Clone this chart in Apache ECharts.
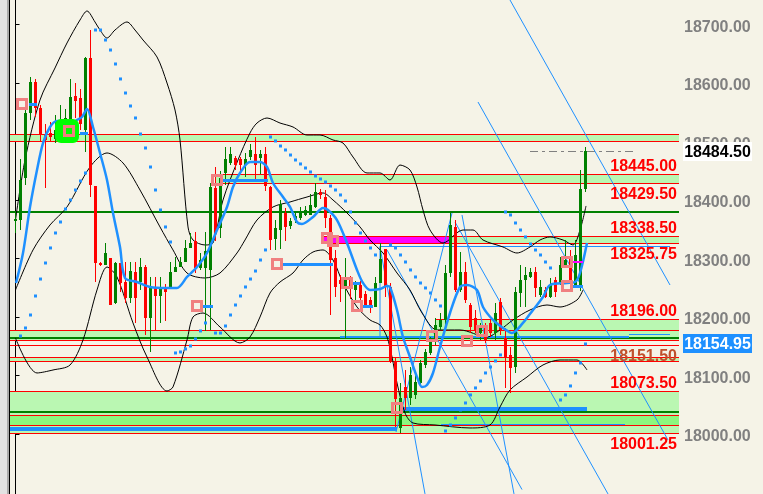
<!DOCTYPE html>
<html><head><meta charset="utf-8">
<script src="https://cdn.jsdelivr.net/npm/echarts@6/dist/echarts.min.js"></script>
<style>html,body{margin:0;padding:0;background:#F5F3E7;}#c{width:763px;height:494px;}</style>
</head><body><div id="c"></div>
<script>
// ---------- data ----------
const opens = [18364,18366,18437,18549,18602,18558,18511,18515,18505,18510,
18520,18536,18577,18575,18520,18643,18424,18292,18289,18301,
18224,18292,18260,18232,18277,18260,18285,18198,18250,18236,
18250,18250,18277,18285,18294,18318,18330,18284,18283,18280,
18420,18352,18446,18464,18471,18470,18460,18473,18478,18472,
18478,18422,18333,18348,18377,18355,18365,18370,18375,18374,
18388,18414,18405,18369,18300,18263,18251,18266,18246,18255,
18240,18229,18217,18258,18316,18251,18123,18010,18081,18062,
18067,18087,18118,18139,18161,18183,18195,18275,18354,18246,
18277,18220,18198,18173,18183,18190,18173,18226,18164,18135,
18115,18241,18263,18268,18277,18238,18246,18234,18263,18258,
18286,18301,18251,18250,18419];
const closes = [18367,18434,18549,18602,18558,18511,18503,18508,18520,18530,
18540,18576,18570,18530,18643,18425,18292,18289,18309,18220,
18292,18258,18232,18279,18232,18285,18198,18249,18236,18248,
18243,18277,18285,18294,18318,18326,18284,18297,18312,18422,
18342,18438,18470,18478,18459,18459,18470,18485,18460,18478,
18424,18332,18352,18393,18353,18364,18372,18377,18383,18391,
18414,18409,18369,18297,18251,18257,18263,18250,18260,18233,
18220,18217,18258,18299,18251,18123,18060,18062,18062,18100,
18089,18121,18140,18157,18186,18195,18275,18357,18246,18277,
18229,18183,18178,18181,18161,18173,18207,18178,18130,18113,
18243,18263,18272,18277,18250,18251,18234,18255,18243,18289,
18298,18263,18306,18419,18484.5];
const highs = [18378,18470,18562,18610,18607,18562,18530,18533,18545,18562,
18555,18607,18600,18590,18645,18690,18424,18294,18326,18301,
18294,18292,18294,18294,18294,18301,18289,18268,18268,18268,
18256,18294,18302,18302,18331,18343,18345,18309,18345,18429,
18457,18450,18491,18490,18476,18473,18480,18496,18508,18485,
18490,18424,18365,18400,18387,18370,18378,18388,18390,18410,
18429,18419,18417,18374,18315,18272,18300,18270,18262,18261,
18245,18234,18268,18326,18316,18258,18130,18087,18109,18115,
18104,18126,18146,18166,18198,18207,18289,18377,18366,18311,
18294,18224,18212,18190,18190,18195,18224,18233,18181,18149,
18251,18289,18285,18284,18285,18263,18251,18267,18268,18302,
18332,18315,18332,18451,18490.6];
const lows = [18344,18349,18425,18537,18542,18500,18420,18499,18498,18500,
18505,18530,18540,18520,18482,18405,18260,18287,18289,18220,
18222,18242,18224,18224,18190,18246,18169,18140,18176,18190,
18193,18250,18277,18288,18294,18318,18275,18280,18176,18178,
18330,18335,18425,18460,18452,18450,18440,18468,18436,18445,
18415,18315,18314,18316,18330,18350,18360,18365,18372,18374,
18386,18402,18352,18204,18235,18225,18164,18230,18226,18223,
18216,18207,18217,18258,18234,18121,18012,18001.25,18041,18050,
18060,18083,18113,18135,18152,18178,18183,18268,18243,18243,
18224,18173,18173,18160,18155,18165,18160,18170,18079,18070,
18104,18217,18217,18266,18234,18234,18232,18232,18234,18255,
18284,18258,18251,18244,18414];

// Bollinger bands (bar index, price)
const bbUpperIdx = [0,1.9,4.9,7.9,10.3,12.9,14.3,15.9,16.9,18.3,19.9,22.3,23.9,25.5,28.3,30.3,31.9,32.9,34.5,35.5,37.9,39.5,41.5,44.5,46.9,48.3,50.3,52.9,55.5,58.3,60.9,63.5,65.5,67.5,70.3,72.9,74.9,76.9,78.9,80.3,81.5,82.9,85.5,89.5,91.5,93.5,97.5,100.3,102.9,104.9,106.9,109.5,111.5,112.9,114.1];
const bbUpperVal = [18365.8,18468.4,18571,18625.7,18668.4,18707.7,18723.1,18704.3,18690.6,18676.9,18690.6,18704.3,18690.6,18673.5,18644.5,18600,18553.9,18502.6,18353.9,18331.6,18323.1,18326.5,18400,18468.4,18514.6,18531.6,18540.2,18531.6,18524.8,18511.1,18511.1,18502.6,18497.4,18473.5,18446.2,18446.2,18434.2,18459.8,18451.3,18422.2,18382.9,18348.7,18326.5,18348.7,18348.7,18331.6,18319.7,18309.4,18319.7,18331.6,18336.8,18331.6,18323.1,18348.7,18389.8];
const bbMidIdx = [0,3.5,6.9,10.3,14.9,18.3,21.5,24.9,28.9,31.5,34.3,37.9,40.9,44.3,45.9,48.3,51.5,54.9,58.3,61.5,63.5,66.3,68.9,70.9,73.5,76.3,78.9,81.3,84.3,88.9,94.3,96.9,99.5,102.9,106.3,108.9,112.3,113.5];
const bbMidVal = [18246.2,18314.6,18357.3,18388.1,18456.4,18480.4,18463.3,18417.1,18353.9,18314.6,18275.2,18266.7,18275.2,18309.4,18331.6,18365.8,18388.1,18396.6,18405.1,18412,18400,18377.8,18353.9,18331.6,18309.4,18275.2,18246.2,18206.9,18177.8,18177.8,18165.8,18177.8,18194.9,18212,18220.5,18217.1,18229.1,18246.2];
const bbLowerIdx = [0,4.3,7.5,10.9,13.5,16.3,18.3,20.3,23.5,26.3,30.3,31.5,34.3,35.5,37.5,40.9,44.9,46.9,48.9,50.9,52.9,55.5,57.5,59.5,61.5,63.5,65.5,68.3,70.9,72.9,74.3,75.3,76.3,77.9,79.5,83.9,90.9,94.9,96.9,98.9,102.3,105.5,108.9,112.3,114.3];
const bbLowerVal = [18164.1,18104.3,18109.4,18117.9,18160.7,18246.2,18285.5,18268.4,18189.8,18131.6,18073.5,18080.4,18160.7,18200,18206.8,18182.9,18155.6,18165.8,18200,18241,18259.8,18275.2,18297.5,18311.1,18314.6,18297.5,18258.1,18217.1,18194.9,18186.3,18165.8,18131.6,18087.2,18035.9,18018.8,18015.4,18010.3,18015.4,18046.2,18075.2,18097.4,18118,18126.5,18126.5,18109.4];

// moving average (blue)
const maIdx = [0.1,1.5,2.9,4.3,5.5,6.9,8.3,9.5,10.9,12.3,13.3,14.3,15.5,16.9,18.3,19.5,20.9,21.9,24.3,26.9,30.3,32.3,34.3,36.3,38.3,40.3,42.3,43.5,44.9,46.9,48.9,50.3,51.5,53.5,54.9,56.3,57.3,59.5,61.5,62.5,64.3,66.3,68.3,69.5,70.9,72.9,74.3,74.9,76.3,77.5,78.9,80.3,81.3,82.3,83.5,84.9,86.9,88.9,90.3,92.3,93.5,95.5,97.5,99.3,101.5,103.5,105.5,106.9,110.3,111.9,112.9,114.3];
const maVal = [18258.1,18309.4,18388.1,18451.3,18497.4,18524.8,18535.1,18535.1,18526.5,18536.8,18541.9,18555.6,18524.8,18480.4,18434.2,18377.8,18319.7,18266.7,18259.8,18251.3,18249.6,18249.6,18268.4,18285.5,18309.4,18348.7,18388.1,18422.2,18446.2,18465,18465,18456.4,18429.1,18405.1,18388.1,18362.4,18359,18371,18386.3,18382.9,18365.8,18326.5,18280.4,18258.1,18246.2,18247.9,18253,18251.3,18211.9,18165.8,18131.6,18097.4,18080.4,18083.8,18104.3,18148.7,18206.8,18251.3,18254.7,18246.2,18217.1,18194.9,18181.2,18172.6,18189.8,18212,18234.2,18254.7,18258.1,18259.8,18275.2,18326.5];

// parabolic SAR dots
const sarIdx = [1,2,3,4,5,6,7,8,9,10,11,12,13,14,
16,17,18,19,20,21,22,23,24,25,26,27,28,29,30,31,
32,33,34,35,36,37,38,
40,41,42,43,44,45,46,47,48,49,50,
51,52,53,54,55,56,57,58,59,60,61,62,63,64,65,66,67,68,69,70,71,72,
75,76,77,78,79,80,81,82,83,84,85,
86,87,88,89,90,91,92,93,94,95,96,97,
98,99,100,101,102,103,104,105,106,107,
109,110,111,112,113,114];
const sarVal = [18167.5,18181.2,18203.4,18235.9,18264.9,18292.3,18318.0,18343.6,18362.4,18384.6,18400.0,18417.1,18432.5,18446.2,
18690.6,18690.6,18673.5,18656.4,18632.5,18606.9,18582.9,18560.7,18540.2,18512.8,18488.9,18456.4,18417.1,18382.9,18353.9,18328.2,
18138.5,18140.2,18145.3,18150.4,18162.4,18176.1,18189.8,
18172.6,18172.6,18184.6,18203.4,18220.5,18235.9,18251.3,18264.9,18278.6,18297.4,18314.6,
18507.7,18500.9,18492.3,18485.5,18476.9,18468.4,18461.6,18454.7,18447.9,18441.0,18435.9,18430.8,18423.9,18417.1,18408.6,18398.3,18379.5,18360.7,18343.6,18329.9,18318.0,18306.0,
18323.1,18318.0,18306.0,18294.0,18280.4,18268.4,18258.1,18249.6,18241.0,18229.1,18218.8,
18005.1,18015.4,18027.4,18041.0,18053.0,18066.7,18078.7,18090.6,18104.3,18114.5,18124.8,18135.1,
18379.5,18374.4,18360.7,18348.7,18336.8,18324.8,18314.5,18306.0,18294.0,18283.8,
18058.1,18066.7,18082.1,18104.3,18121.4,18153.9];

// fractal markers (hollow squares)
const markIdx = [1.3,10.7,40.3,62.3,63.5,52.3,36.3,66.3,68.3,83.3,90.3,93.3,76.3,110.3,110.3];
const markVal = [18564.1,18518,18434.2,18335,18329.9,18290.6,18218.8,18258.1,18218.8,18167.5,18159,18176.1,18044.5,18294,18253];
const highlightIdx = [10.3];
const highlightVal = [18518];

// zones (support / resistance boxes)
const zoneFrom   = [-1.3,40.1,61.5,86.9,83.9,-1.3,-1.3,-1.3,-1.3,-1.3];
const zoneTo     = [132.7,132.7,86.9,132.7,132.7,132.7,132.7,132.7,132.7,132.7];
const zoneTop    = [18512.3,18445,18338.5,18338.5,18196,18177.8,18131.1,18073.5,18032,18014.9];
const zoneBottom = [18500.4,18429.5,18325.75,18325.75,18177.8,18160.7,18124.3,18032,18014.9,18001.25];
const zoneKind   = [0,0,2,0,0,0,0,0,1,0];

const redLevels   = [18151.5];
const greenLevels = [18379, 18164.6, 18037.6];

// blue horizontal drawings [from, to, price]
const thickBlue  = [[-1.3,76.3,18008.1],[77.5,114.3,18042.2]];
const mediumBlue = [[64.9,122.7,18166.3]];
const thinBlue   = [[85.1,121.9,18016.5],[122.7,130.9,18170.4],[72.9,130.9,18321.4]];
const fractalBlue= [[2.7,4.3,18564.1],[12.9,14.5,18514.5],[41.5,50.5,18434.2],[53.5,63.5,18290.6],[37.5,39.5,18218.8],[67.5,68.9,18258.1],[69.5,71.5,18218.8],[111.5,113.5,18253]];
const magentaSeg = [[111.5,113.5,18294]];
// trend / channel lines [i1, p1, i2, p2]
const trendLines = [[98.9,18741.9,130.9,18254.7],[92.5,18567.5,130.5,17989.8],[87.9,18362.4,118.5,17897.5],
  [76.1,18003.4,87.3,18377.8],[89.3,18374.4,99.7,17897.5],[72.9,18319.7,81.9,17897.5],
  [74.3,18314.6,101.3,17905],[72.9,18321.4,72.9,18164]];

const lastPrice   = 18484.5;
const lastLine    = [[102.9,123.9,18484.5]];
const markerPrice = 18154.95;
const levelLabels = [18445, 18429.5, 18338.5, 18325.75, 18196, 18151.5, 18073.5, 18001.25];
const levelSide   = [1, -1, 1, -1, 1, -1, 1, -1];
const priceTicks  = [18000,18100,18200,18300,18400,18500,18600,18700];

// ---------- chart ----------
const FONT = 'bold 16px "Liberation Sans", Arial, sans-serif';
const zoneFills = ['#BAF7B2', '#8CF77E', '#FF00FF'];
const chart = echarts.init(document.getElementById('c'), null, {renderer: 'canvas', width: 763, height: 494});

function pairs(a, b) { return a.map((v, i) => [v, b[i]]); }

function hSeries(rows, color, width, z, dash) {
  return {
    type: 'custom', z: z, silent: true, data: rows, encode: {x: [0, 1], y: 2},
    renderItem(params, api) {
      const a = api.coord([api.value(0), api.value(2)]);
      const b = api.coord([api.value(1), api.value(2)]);
      let y = Math.round(a[1]);
      if (width % 2 === 1) y += 0.5;
      return {type: 'line', shape: {x1: a[0], y1: y, x2: b[0], y2: y},
        style: {stroke: color, lineWidth: width, lineDash: dash || null}};
    }
  };
}

const option = {
  animation: false,
  backgroundColor: '#F5F3E7',
  grid: {left: 9, right: 84, top: 0, bottom: 0, containLabel: false, outerBoundsMode: 'none'},
  xAxis: {type: 'value', min: -1.3, max: 132.7, show: false, splitLine: {show: false}},
  yAxis: {
    type: 'value', position: 'right', min: 17897.4, max: 18741.9,
    splitLine: {show: false},
    axisLine: {show: true, lineStyle: {color: '#000', width: 1}},
    axisTick: {show: true, customValues: priceTicks, length: 4, lineStyle: {color: '#000'}},
    axisLabel: {show: false}
  },
  series: [
    { // zones
      type: 'custom', z: 1, silent: true,
      data: zoneFrom.map((f, i) => [f, zoneTo[i], zoneTop[i], zoneBottom[i], zoneKind[i]]),
      encode: {x: [0, 1], y: [2, 3]},
      renderItem(params, api) {
        const p1 = api.coord([api.value(0), api.value(2)]);
        const p2 = api.coord([api.value(1), api.value(3)]);
        const x1 = Math.round(p1[0]), x2 = Math.round(p2[0]);
        const y1 = Math.round(p1[1]), y2 = Math.round(p2[1]);
        return {type: 'group', children: [
          {type: 'rect', shape: {x: x1, y: y1, width: x2 - x1, height: y2 - y1}, style: {fill: zoneFills[api.value(4)]}},
          {type: 'line', shape: {x1: x1, y1: y1 + 0.5, x2: x2, y2: y1 + 0.5}, style: {stroke: '#FF0000', lineWidth: 1}},
          {type: 'line', shape: {x1: x1, y1: y2 + 0.5, x2: x2, y2: y2 + 0.5}, style: {stroke: '#FF0000', lineWidth: 1}}
        ]};
      }
    },
    hSeries(redLevels.map(p => [-1.3, 132.7, p]), '#FF0000', 1, 2),
    hSeries(greenLevels.map(p => [-1.3, 132.7, p]), '#008000', 2, 2),
    hSeries(thickBlue, '#1E90FF', 4, 3),
    hSeries(mediumBlue, '#1E90FF', 2, 3),
    hSeries(thinBlue, '#1E90FF', 1, 3),
    hSeries(lastLine, '#808080', 1, 3, [8, 4, 3, 4]),
    { // trend lines
      type: 'custom', z: 3, silent: true, clip: true, data: trendLines,
      encode: {x: [0, 2], y: [1, 3]},
      renderItem(params, api) {
        const a = api.coord([api.value(0), api.value(1)]);
        const b = api.coord([api.value(2), api.value(3)]);
        return {type: 'line', shape: {x1: a[0], y1: a[1], x2: b[0], y2: b[1]}, style: {stroke: '#1E90FF', lineWidth: 1}};
      }
    },
    {type: 'line', z: 4, data: pairs(bbUpperIdx, bbUpperVal), showSymbol: false, symbol: 'none', smooth: 0.3, silent: true, lineStyle: {color: '#000', width: 1}},
    {type: 'line', z: 4, data: pairs(bbMidIdx, bbMidVal), showSymbol: false, symbol: 'none', smooth: 0.3, silent: true, lineStyle: {color: '#000', width: 1}},
    {type: 'line', z: 4, data: pairs(bbLowerIdx, bbLowerVal), showSymbol: false, symbol: 'none', smooth: 0.3, silent: true, lineStyle: {color: '#000', width: 1}},
    { // candles
      type: 'custom', z: 5, silent: true,
      data: opens.map((o, i) => [i, o, closes[i], lows[i], highs[i]]),
      encode: {x: 0, y: [1, 2, 3, 4]},
      renderItem(params, api) {
        const k = api.value(0), o = api.value(1), c = api.value(2), l = api.value(3), h = api.value(4);
        const po = api.coord([k, o]), pc = api.coord([k, c]), pl = api.coord([k, l]), ph = api.coord([k, h]);
        const x = Math.floor(po[0] + 0.01) + 0.5;
        const color = c >= o ? '#008000' : '#FF0000';
        const top = Math.round(Math.min(po[1], pc[1])), bot = Math.round(Math.max(po[1], pc[1]));
        return {type: 'group', children: [
          {type: 'line', shape: {x1: x, y1: Math.round(ph[1]), x2: x, y2: Math.round(pl[1])}, style: {stroke: color, lineWidth: 1}},
          {type: 'rect', shape: {x: x - 1.5, y: top, width: 3, height: Math.max(1, bot - top)}, style: {fill: color}}
        ]};
      }
    },
    {type: 'line', z: 6, data: pairs(maIdx, maVal), showSymbol: false, symbol: 'none', smooth: 0.3, silent: true, lineStyle: {color: '#1E90FF', width: 2.5}},
    {type: 'scatter', z: 6, data: pairs(sarIdx, sarVal), symbol: 'rect', symbolSize: 3, silent: true, itemStyle: {color: '#1E90FF', opacity: 1}},
    {type: 'scatter', z: 6, data: pairs(highlightIdx, highlightVal), symbol: 'roundRect', symbolSize: 24, silent: true, itemStyle: {color: '#00FF00', opacity: 1}},
    hSeries(fractalBlue, '#1E90FF', 3, 7),
    hSeries(magentaSeg, '#FF00FF', 2, 7),
    {type: 'scatter', z: 7, data: pairs(markIdx, markVal), symbol: 'rect', symbolSize: 9, silent: true,
      itemStyle: {color: 'rgba(0,0,0,0)', borderColor: '#F08080', borderWidth: 3, opacity: 1}},
    { // level labels
      type: 'custom', z: 8, silent: true,
      data: levelLabels.map((v, i) => [0, v, levelSide[i]]),
      encode: {x: 0, y: 1},
      renderItem(params, api) {
        const cs = params.coordSys;
        const v = api.value(1), side = api.value(2);
        const y = api.coord([0, v])[1];
        const brown = v === 18151.5;
        return {type: 'text', x: cs.x + cs.width - 2, y: side > 0 ? y + 0.5 : y + 3.5,
          style: {text: v.toFixed(2), font: FONT, fill: brown ? '#C0502C' : '#FF0000',
            align: 'right', verticalAlign: side > 0 ? 'bottom' : 'top'}};
      }
    },
    { // price-axis tick labels
      type: 'custom', z: 8, silent: true,
      data: priceTicks.map(v => [0, v]),
      encode: {x: 0, y: 1},
      renderItem(params, api) {
        const cs = params.coordSys;
        const v = api.value(1);
        const y = api.coord([0, v])[1];
        return {type: 'text', x: cs.x + cs.width + 5, y: y + 3,
          style: {text: v.toFixed(2), font: FONT, fill: '#808080', align: 'left', verticalAlign: 'middle'}};
      }
    },
    { // price boxes on the axis
      type: 'custom', z: 9, silent: true,
      data: [[0, lastPrice, 0], [0, markerPrice, 1]],
      encode: {x: 0, y: 1},
      renderItem(params, api) {
        const cs = params.coordSys;
        const v = api.value(1), kind = api.value(2);
        const y = Math.round(api.coord([0, v])[1]);
        const x = cs.x + cs.width + 4;
        return {type: 'group', children: [
          {type: 'rect', shape: {x: x, y: y - 9, width: 69, height: 19}, style: {fill: kind ? '#1E90FF' : '#FFFFFF'}},
          {type: 'text', x: x + 34.5, y: y + 1.5, style: {text: v.toFixed(2), font: FONT, fill: kind ? '#FFFFFF' : '#000000', align: 'center', verticalAlign: 'middle'}}
        ]};
      }
    }
  ],
  graphic: [
    {type: 'rect', left: 0, top: 0, shape: {width: 7, height: 494}, style: {fill: '#E2E2E2'}, z: 100},
    {type: 'rect', left: 7, top: 0, shape: {width: 2, height: 494}, style: {fill: '#A9A9A9'}, z: 100},
    {type: 'line', shape: {x1: 9.5, y1: 0, x2: 9.5, y2: 494}, style: {stroke: '#000', lineWidth: 1}, z: 100}
  ]
};
chart.setOption(option);
</script>
</body></html>
